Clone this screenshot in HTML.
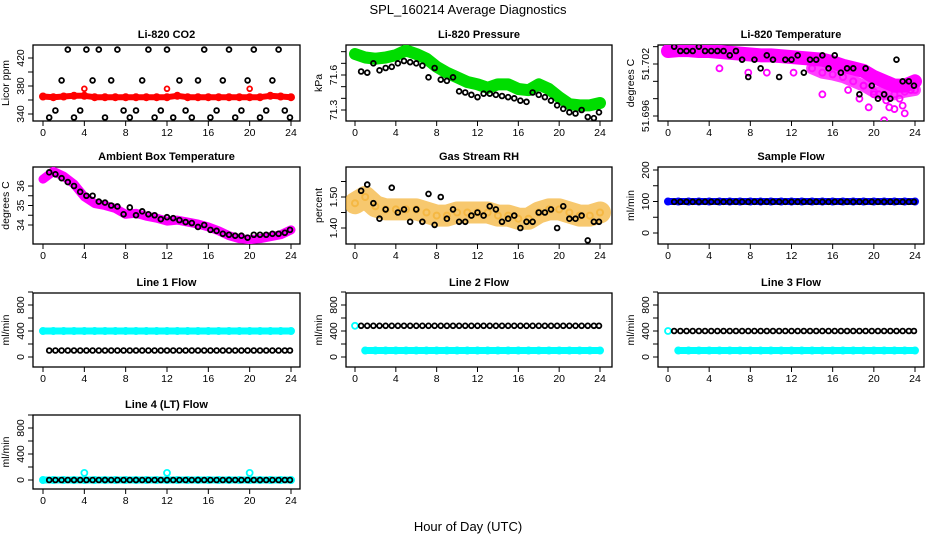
<!DOCTYPE html>
<html><head><meta charset="utf-8"><style>
body{margin:0;background:#fff;}
svg text{font-family:"Liberation Sans",sans-serif;}
</style></head><body>
<svg id="c" width="936" height="540" xmlns="http://www.w3.org/2000/svg">
<text x="468" y="14" text-anchor="middle" font-size="13">SPL_160214  Average Diagnostics</text>
<text x="468" y="531" text-anchor="middle" font-size="13">Hour of Day (UTC)</text>
</svg>
<script>
const hourly=[0,1,2,3,4,5,6,7,8,9,10,11,12,13,14,15,16,17,18,19,20,21,22,23,24];
const blkH=[0.6,1.2,1.8,2.4,3.0,3.6,4.2,4.8,5.4,6.0,6.6,7.2,7.8,8.4,9.0,9.6,10.2,10.8,11.4,12.0,12.6,13.2,13.8,14.4,15.0,15.6,16.2,16.8,17.4,18.0,18.6,19.2,19.8,20.4,21.0,21.6,22.2,22.8,23.4,23.9];
const xTicks=[0,4,8,12,16,20,24];
// CO2
const co2Red=[365,364,365,366,366,364,364,364,364,364,364,364,364,366,364,364,364,364,364,364,364,364,366,365,364];
const co2OutH=[4,12,20];
const co2Out=[376,376,376];
const co2Blk=[335,345,388,432,335,345,432,388,432,335,388,432,345,335,345,388,432,335,345,432,335,388,345,335,388,432,335,345,388,432,335,345,388,432,335,345,388,432,345,335];
// Pressure
const presGreen=[71.78,71.75,71.74,71.75,71.77,71.81,71.78,71.74,71.67,71.62,71.58,71.54,71.52,71.49,71.52,71.52,71.48,71.47,71.52,71.48,71.41,71.35,71.34,71.34,71.36];
const presBlk=[71.63,71.62,71.70,71.64,71.66,71.67,71.70,71.72,71.71,71.70,71.68,71.58,71.66,71.56,71.55,71.58,71.46,71.45,71.43,71.41,71.44,71.44,71.43,71.42,71.41,71.40,71.38,71.37,71.45,71.43,71.41,71.38,71.34,71.31,71.28,71.27,71.30,71.24,71.23,71.28];
// Li-820 temperature
const tempMag=[51.7035,51.7036,51.7036,51.7035,51.7035,51.7034,51.7033,51.7032,51.7031,51.703,51.703,51.7029,51.7028,51.7027,51.7026,51.7025,51.7022,51.7018,51.7015,51.7012,51.7005,51.7,51.6995,51.6995,51.7];
const tempLowH=[14,15,16,17,18,19,20,21,22,23,24];
const tempLow=[51.7015,51.701,51.7008,51.7005,51.7,51.6995,51.6988,51.6985,51.6985,51.6988,51.699];
const tempScH=[15,17.5,18.6,19.5,20.5,21,21.5,22,22.5,23,23.6,19,20,21.2,22.8,7.8,9.6,12.2,5.0];
const tempSc=[51.6985,51.699,51.698,51.697,51.6985,51.6955,51.697,51.6968,51.698,51.6963,51.699,51.6995,51.6985,51.6978,51.6972,51.701,51.701,51.701,51.7015];
const tempBlk=[51.704,51.7035,51.7035,51.7035,51.704,51.7035,51.7035,51.7035,51.7035,51.703,51.7035,51.7025,51.7005,51.7025,51.7015,51.703,51.7025,51.7005,51.7025,51.7025,51.703,51.701,51.7025,51.7025,51.703,51.7015,51.703,51.701,51.7015,51.7015,51.6985,51.7015,51.6995,51.698,51.6985,51.698,51.7025,51.7,51.7,51.6995];
// Ambient
const ambMag=[36.35,36.75,36.5,36.1,35.45,35.1,35.0,34.85,34.55,34.6,34.45,34.35,34.2,34.25,34.15,34.05,33.9,33.7,33.45,33.3,33.25,33.3,33.4,33.5,33.75];
const ambBlk=[36.7,36.6,36.4,36.2,36.0,35.7,35.5,35.5,35.2,35.15,35.0,34.95,34.55,34.9,34.5,34.7,34.55,34.5,34.3,34.4,34.35,34.25,34.15,34.1,33.9,34.0,33.75,33.7,33.55,33.5,33.45,33.45,33.35,33.5,33.5,33.5,33.55,33.55,33.6,33.75];
// RH
const rhBand=[1.48,1.50,1.47,1.46,1.46,1.46,1.46,1.45,1.44,1.44,1.45,1.45,1.45,1.45,1.44,1.44,1.43,1.43,1.45,1.46,1.46,1.45,1.44,1.44,1.45];
const rhBlk=[1.52,1.54,1.48,1.43,1.46,1.53,1.45,1.46,1.42,1.46,1.42,1.51,1.41,1.50,1.43,1.46,1.42,1.42,1.44,1.45,1.44,1.47,1.46,1.42,1.43,1.44,1.40,1.42,1.42,1.45,1.45,1.46,1.40,1.47,1.43,1.43,1.44,1.36,1.42,1.42];
// Sample flow
const sampBlue=[100,100,100,100,100,100,100,100,100,100,100,100,100,100,100,100,100,100,100,100,100,100,100,100,100];
const sampBlk=[99,99,99,99,99,99,99,99,99,99,99,99,99,99,99,99,99,99,99,99,99,99,99,99,99,99,99,99,99,99,99,99,99,99,99,99,99,99,99,99];
// Line flows
const l1Cyan=[400,400,400,400,400,400,400,400,400,400,400,400,400,400,400,400,400,400,400,400,400,400,400,400,400];
const l1Blk=[100,100,100,100,100,100,100,100,100,100,100,100,100,100,100,100,100,100,100,100,100,100,100,100,100,100,100,100,100,100,100,100,100,100,100,100,100,100,100,100];
const l2Cyan=[480,100,100,100,100,100,100,100,100,100,100,100,100,100,100,100,100,100,100,100,100,100,100,100,100];
const l2Blk=[480,480,480,480,480,480,480,480,480,480,480,480,480,480,480,480,480,480,480,480,480,480,480,480,480,480,480,480,480,480,480,480,480,480,480,480,480,480,480,480];
const l3Cyan=[400,100,100,100,100,100,100,100,100,100,100,100,100,100,100,100,100,100,100,100,100,100,100,100,100];
const l3Blk=[400,400,400,400,400,400,400,400,400,400,400,400,400,400,400,400,400,400,400,400,400,400,400,400,400,400,400,400,400,400,400,400,400,400,400,400,400,400,400,400];
const l4Cyan=[0,0,0,0,0,0,0,0,0,0,0,0,0,0,0,0,0,0,0,0,0,0,0,0,0];
const l4SpikeH=[4,12,20];
const l4Spike=[110,110,110];
const l4Blk=[0,0,0,0,0,0,0,0,0,0,0,0,0,0,0,0,0,0,0,0,0,0,0,0,0,0,0,0,0,0,0,0,0,0,0,0,0,0,0,0];

const svg=document.getElementById('c');
const NS='http://www.w3.org/2000/svg';
function mk(t,a,p){const e=document.createElementNS(NS,t);for(const k in a)e.setAttribute(k,a[k]);(p||svg).appendChild(e);return e;}
const cols=[{bx0:33,bx1:300,x0:43,x24:291},{bx0:346,bx1:612,x0:355,x24:600},{bx0:658,bx1:924,x0:668,x24:915}];
const rows=[{by0:45,by1:121},{by0:167,by1:244},{by0:293,by1:367},{by0:415,by1:489}];

function panel(name,ci,ri,title,ylab,v1,p1,v2,p2,yt,yl){
  const c=cols[ci],r=rows[ri];
  const g=mk('g',{});
  
  
  const X=h=>c.x0+(c.x24-c.x0)*h/24;
  const Y=v=>p1+(v-v1)*(p2-p1)/(v2-v1);
  const box=mk('rect',{x:c.bx0,y:r.by0,width:c.bx1-c.bx0,height:r.by1-r.by0,fill:'none',stroke:'#000','stroke-width':1.3},g);
  
  
  const t=mk('text',{x:(c.bx0+c.bx1)/2,y:r.by0-7,'text-anchor':'middle','font-size':11,'font-weight':'bold'},g);
  t.textContent=title;
  
  
  xTicks.forEach(h=>{
    mk('line',{x1:X(h),x2:X(h),y1:r.by1,y2:r.by1+5,stroke:'#000'},g);
    const tx=mk('text',{x:X(h),y:r.by1+15,'text-anchor':'middle','font-size':10.5},g);
    tx.textContent=h;
    
    
  });
  yt.forEach(v=>mk('line',{x1:c.bx0,x2:c.bx0-5,y1:Y(v),y2:Y(v),stroke:'#000'},g));
  yl.forEach(s=>{
    const yy=Y(parseFloat(s));const tx=mk('text',{x:c.bx0-9,y:yy,'text-anchor':'middle','font-size':10.5,transform:`rotate(-90 ${c.bx0-9} ${yy})`},g);
    tx.textContent=s;
    
    
  });
  const yt2=mk('text',{x:c.bx0-24,y:(r.by0+r.by1)/2,'text-anchor':'middle','font-size':10.5,transform:`rotate(-90 ${c.bx0-24} ${(r.by0+r.by1)/2})`},g);
  yt2.textContent=ylab;
  
  
  const clip='cl'+name;
  const cp=mk('clipPath',{id:clip},g);mk('rect',{x:c.bx0,y:r.by0,width:c.bx1-c.bx0,height:r.by1-r.by0},cp);
  const dg=mk('g',{'clip-path':`url(#${clip})`},g);
  return {X,Y,g:dg};
}
function band(P,hs,vs,col,w,name,op){
  const pts=hs.map((h,i)=>P.X(h)+','+P.Y(vs[i])).join(' ');
  const e=mk('polyline',{points:pts,fill:'none',stroke:col,'stroke-width':w,'stroke-linejoin':'round','stroke-linecap':'round','stroke-opacity':op||1},P.g);
  
  
  hs.forEach((h,i)=>{
    const d=mk('circle',{cx:P.X(h),cy:P.Y(vs[i]),r:3,fill:'none',stroke:col,'stroke-width':2,'stroke-opacity':op||1},P.g);
    
    
  });
}
function pts(P,hs,vs,col,name,r){
  hs.forEach((h,i)=>{
    const d=mk('circle',{cx:P.X(h),cy:P.Y(vs[i]),r:r||2.4,fill:'none',stroke:col,'stroke-width':1.8},P.g);
    
    
  });
}
let P;
P=panel('co2-panel',0,0,'Li-820 CO2','Licor ppm',340,114,420,58,[340,360,380,400,420],['340','380','420']);
band(P,hourly,co2Red,'#ff0000',6,'co2-red-series');pts(P,co2OutH,co2Out,'#ff0000','co2-red-outlier');pts(P,blkH,co2Blk,'#000','co2-black-point');
P=panel('pressure-panel',1,0,'Li-820 Pressure','kPa',71.3,110,71.6,75,[71.3,71.4,71.5,71.6,71.7,71.8],['71.3','71.6']);
band(P,hourly,presGreen,'#00dd00',12,'pressure-green-series');pts(P,blkH,presBlk,'#000','pressure-black-point');
P=panel('temperature-panel',2,0,'Li-820 Temperature','degrees C',51.696,116,51.702,64,[51.696,51.698,51.7,51.702,51.704],['51.696','51.702']);
band(P,hourly,tempMag,'#ff00ff',14,'temp-magenta-series');band(P,tempLowH,tempLow,'#ff00ff',12,'temp-magenta-lower',0.75);pts(P,tempScH,tempSc,'#ff00ff','temp-magenta-scatter',3);pts(P,blkH,tempBlk,'#000','temp-black-point');
P=panel('ambient-panel',0,1,'Ambient Box Temperature','degrees C',34,225,36,186,[34,34.5,35,35.5,36],['34','35','36']);
band(P,hourly,ambMag,'#ff00ff',9,'ambient-magenta-series');pts(P,blkH,ambBlk,'#000','ambient-black-point');
P=panel('rh-panel',1,1,'Gas Stream RH','percent',1.40,228,1.50,197,[1.40,1.45,1.50,1.55],['1.40','1.50']);
band(P,hourly,rhBand,'#f4b030',22,'rh-orange-series',0.7);pts(P,blkH,rhBlk,'#000','rh-black-point');
P=panel('sample-flow-panel',2,1,'Sample Flow','ml/min',0,233,200,170,[0,50,100,150,200],['0','100','200']);
band(P,hourly,sampBlue,'#0000ff',7,'sample-blue-series');pts(P,blkH,sampBlk,'#000','sample-black-point');
const fy=[0,200,400,600,800,1000],fl=['0','400','800'];
P=panel('line1-panel',0,2,'Line 1 Flow','ml/min',0,357,400,331,fy,fl);
band(P,hourly,l1Cyan,'#00ffff',7,'line1-cyan-series');pts(P,blkH,l1Blk,'#000','line1-black-point');
P=panel('line2-panel',1,2,'Line 2 Flow','ml/min',0,357,400,331,fy,fl);
band(P,hourly.slice(1),l2Cyan.slice(1),'#00ffff',7,'line2-cyan-series');pts(P,[0],[l2Cyan[0]],'#00ffff','line2-cyan-start',3);pts(P,blkH,l2Blk,'#000','line2-black-point');
P=panel('line3-panel',2,2,'Line 3 Flow','ml/min',0,357,400,331,fy,fl);
band(P,hourly.slice(1),l3Cyan.slice(1),'#00ffff',7,'line3-cyan-series');pts(P,[0],[l3Cyan[0]],'#00ffff','line3-cyan-start',3);pts(P,blkH,l3Blk,'#000','line3-black-point');
P=panel('line4-panel',0,3,'Line 4 (LT) Flow','ml/min',0,480,400,454,fy,fl);
band(P,hourly,l4Cyan,'#00ffff',7,'line4-cyan-series');pts(P,l4SpikeH,l4Spike,'#00ffff','line4-cyan-spike',3);pts(P,blkH,l4Blk,'#000','line4-black-point');
</script>
</body></html>
